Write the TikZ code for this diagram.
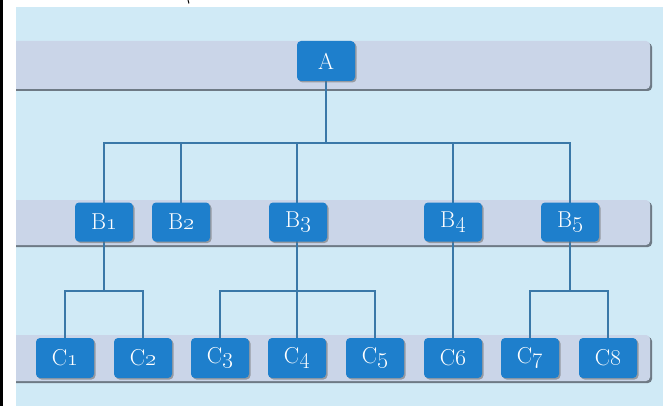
\RequirePackage{fix-cm}
\documentclass[tikz,border=0pt]{standalone}
\usetikzlibrary{shadows}
\definecolor{skyback}{HTML}{D0EAF6}
\definecolor{bandfill}{HTML}{CAD5E8}
\definecolor{bandshade}{HTML}{6E7A85}
\definecolor{boxblue}{HTML}{1E7FCC}
\definecolor{linkblue}{HTML}{3A78A8}
\begin{document}
\begin{tikzpicture}[x=1pt,y=-1pt,
    band/.style={fill=bandfill, rounded corners=4pt, drop shadow={shadow xshift=2pt, shadow yshift=-2pt, fill=bandshade, opacity=1}},
    unit/.style={fill=boxblue, rounded corners=4pt, minimum width=58pt, minimum height=39pt, inner sep=0pt, text=white, font=\fontsize{23}{24}\selectfont, drop shadow={shadow xshift=1.5pt, shadow yshift=-1.5pt, fill=black!55, opacity=.6}},
    link/.style={draw=linkblue, line width=1.2pt}]
    \useasboundingbox (0,0) rectangle (663,406);
    \fill[white] (0,0) rectangle (663,406);
    \fill[black] (0,0) rectangle (3,406);
    \draw[black, line width=1pt] (188,0) -- (189,3.5);
    \fill[skyback] (16,7) rectangle (663,406);
    % the three bands
    \begin{scope}
    \clip (16,7) rectangle (663,406);
    \path[band] (8,41) rectangle (650,89);
    \path[band] (8,200) rectangle (650,245);
    \path[band] (8,335) rectangle (650,381);
    \end{scope}
    % bus coordinates
    \coordinate (busA) at (326,143);
    \coordinate (busB1) at (104,291);
    \coordinate (busB3) at (297,291);
    \coordinate (busB5) at (570,291);
    % connectors
    \draw[link] (326,81) -- (busA);
    \draw[link] (104,203) |- (busA);
    \draw[link] (181,203) |- (busA);
    \draw[link] (297,203) -- (297,143);
    \draw[link] (453,203) |- (busA);
    \draw[link] (570,203) |- (busA);
    \draw[link] (104,241) -- (busB1);
    \draw[link] (65,338) |- (busB1);
    \draw[link] (143,338) |- (busB1);
    \draw[link] (297,241) -- (297,338);
    \draw[link] (220,338) |- (busB3);
    \draw[link] (375,338) |- (busB3);
    \draw[link] (453,241) -- (453,338);
    \draw[link] (570,241) -- (busB5);
    \draw[link] (530,338) |- (busB5);
    \draw[link] (608,338) |- (busB5);
    % boxes
    \node[unit, minimum height=40pt] (A) at (326,61) {A};
    \node[unit] (B1) at (104,222) {B\oldstylenums{1}};
    \node[unit] (B2) at (181,222) {B\oldstylenums{2}};
    \node[unit] (B3) at (298,222) {B\oldstylenums{3}};
    \node[unit] (B4) at (453,222) {B\oldstylenums{4}};
    \node[unit] (B5) at (570,222) {B\oldstylenums{5}};
    \foreach \i/\cx in {1/65,2/143,3/220,4/297,5/375,6/453,7/530,8/608}
        \node[unit, minimum height=40pt] (C\i) at (\cx,358) {C\oldstylenums{\i}};
\end{tikzpicture}
\end{document}
